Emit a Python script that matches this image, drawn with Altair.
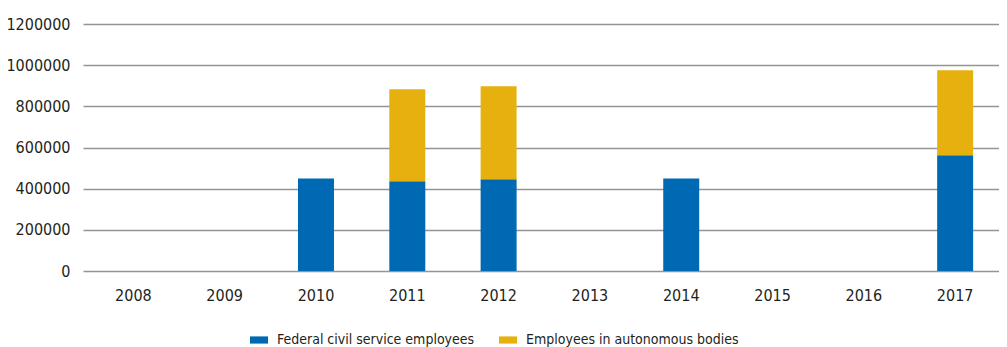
import altair as alt
import pandas as pd

years = ["2008", "2009", "2010", "2011", "2012", "2013", "2014", "2015", "2016", "2017"]
series = ["Federal civil service employees", "Employees in autonomous bodies"]
colors = ["#0069B4", "#E6B10E"]

fed_years = ["2010", "2011", "2012", "2014", "2017"]
fed_values = [450000, 436000, 446000, 450000, 562000]
auto_years = ["2011", "2012", "2017"]
auto_values = [447000, 452000, 413000]

rows = []
for y, v in zip(fed_years, fed_values):
    rows.append({"year": y, "series": series[0], "value": v, "ord": 0})
for y, v in zip(auto_years, auto_values):
    rows.append({"year": y, "series": series[1], "value": v, "ord": 1})
df = pd.DataFrame(rows)

FONT = "DejaVu Sans Condensed, sans-serif"
TXT = "#231F20"

chart = alt.Chart(df).mark_bar().encode(
    x=alt.X("year:N", sort=years,
            scale=alt.Scale(domain=years, paddingInner=0.606, paddingOuter=0.319,
                            align=0.556, round=False),
            axis=alt.Axis(title=None, labelAngle=0, ticks=False, domain=False,
                          labelPadding=16, labelFontSize=16, labelFont=FONT,
                          labelColor=TXT, grid=False)),
    y=alt.Y("value:Q", stack="zero",
            scale=alt.Scale(domain=[0, 1200000], nice=False),
            axis=alt.Axis(title=None, values=[0, 200000, 400000, 600000, 800000, 1000000, 1200000],
                          format="d", ticks=False, domain=False, labelPadding=13,
                          labelFontSize=16, labelFont=FONT, labelColor=TXT,
                          grid=True, gridColor="#939598", gridWidth=1.6)),
    color=alt.Color("series:N", scale=alt.Scale(domain=series, range=colors),
                    legend=alt.Legend(title=None, orient="none", direction="horizontal",
                                      legendX=167, legendY=307,
                                      symbolType="M-1,-0.4H1V0.4H-1Z", symbolSize=324,
                                      symbolStrokeWidth=0, labelOffset=9, columnPadding=24,
                                      labelFontSize=14, labelFont=FONT, labelColor=TXT,
                                      labelLimit=400)),
    order=alt.Order("ord:Q", sort="ascending"),
).properties(
    width=916, height=247,
    autosize=alt.AutoSizeParams(type="none"),
    padding={"left": 75, "top": 16, "right": 0, "bottom": 76},
).configure_view(stroke=None)

chart.save("out.html", embed_options={"renderer": "svg", "actions": False})
